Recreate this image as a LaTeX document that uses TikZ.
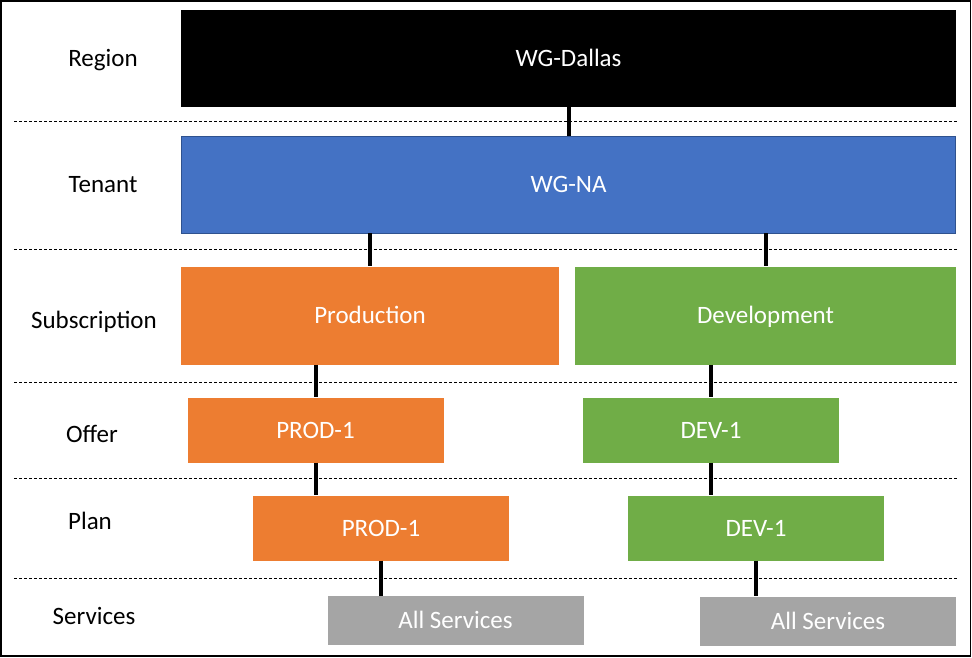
\documentclass[tikz,border=0pt]{standalone}
\usepackage{xcolor}
\usepackage{fontspec}
\setmainfont{Carlito}
\usepackage{tikz}
\usetikzlibrary{positioning}
\definecolor{tenantblue}{HTML}{4472C4}
\definecolor{tenantedge}{HTML}{2F528F}
\definecolor{prodorange}{HTML}{ED7D31}
\definecolor{devgreen}{HTML}{70AD47}
\definecolor{svcgray}{HTML}{A5A5A5}

\begin{document}
\begin{tikzpicture}
  [
    x=1pt, y=-1pt,
    Level/.style={font=\fontsize{25}{29}\selectfont, text=black, text height=16.5pt, text depth=0pt},
    Box/.style={rectangle, inner sep=0pt, font=\fontsize{25}{29}\selectfont, text=white, text height=16.5pt, text depth=0pt},
    Black/.style={Box, fill=black, minimum width=775pt, minimum height=97pt},
    Blue/.style={Box, fill=tenantblue, draw=tenantedge, line width=0.8pt, minimum width=774pt, minimum height=97pt},
    Orange/.style={Box, fill=prodorange},
    Green/.style={Box, fill=devgreen},
    Gray/.style={Box, fill=svcgray, minimum width=256pt, minimum height=49pt},
    Link/.style={line width=4pt, black}
  ]
  \useasboundingbox (0,0) rectangle (972,657);
  \draw[line width=1.5pt] (0.75,0.75) rectangle (970.5,656);
  % Dashed rows
  \foreach \y in {121, 249, 382, 478, 578}
    \draw[dashed, dash pattern=on 3pt off 2pt, line width=1pt] (14,\y) -- (958,\y);
  % Levels
  \node[Level] (lregion) at (103, 58) {Region};
  \node[Level] (ltenant) at (103, 184) {Tenant};
  \node[Level] (lsub) at (94, 320) {Subscription};
  \node[Level] (loffer) at (92, 434) {Offer};
  \node[Level] (lplan) at (90, 521) {Plan};
  \node[Level] (lsvc) at (94, 616) {Services};
  % Nodes
  \node[Black] (dallas) at (568.5, 58.5) {WG-Dallas};
  \node[Blue] (na) at (568.5, 184.5) {WG-NA};
  \node[Orange, minimum width=378pt, minimum height=98pt] (prod) at (370, 315.5) {Production};
  \node[Green, minimum width=381pt, minimum height=98pt] (dev) at (765.5, 315.5) {Development};
  \node[Orange, minimum width=256pt, minimum height=65pt] (prodoffer) at (315.5, 430) {PROD-1};
  \node[Green, minimum width=256pt, minimum height=65pt] (devoffer) at (711, 430) {DEV-1};
  \node[Orange, minimum width=256pt, minimum height=65pt] (prodplan) at (381, 528) {PROD-1};
  \node[Green, minimum width=256pt, minimum height=65pt] (devplan) at (756, 528) {DEV-1};
  \node[Gray] (prodsvc) at (455.5, 620.5) {All Services};
  \node[Gray] (devsvc) at (828, 621) {All Services};
  % Lines
  \path [draw, Link] (dallas) -- (na);
  \path [draw, Link] (prod |- na.south) -- (prod);
  \path [draw, Link] (dev |- na.south) -- (dev);
  \path [draw, Link] (prodoffer |- prod.south) -- (prodoffer);
  \path [draw, Link] (devoffer |- dev.south) -- (devoffer);
  \path [draw, Link] (prodoffer) -- (prodoffer |- prodplan.north);
  \path [draw, Link] (devoffer) -- (devoffer |- devplan.north);
  \path [draw, Link] (prodplan) -- (prodplan |- prodsvc.north);
  \path [draw, Link] (devplan) -- (devplan |- devsvc.north);
\end{tikzpicture}
\end{document}
